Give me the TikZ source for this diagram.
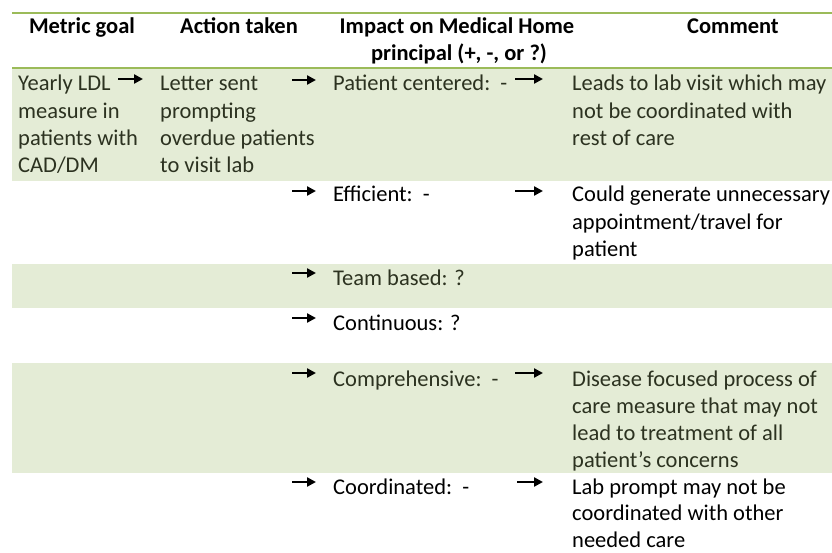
\documentclass[tikz,border=0pt]{standalone}
\usepackage{fontspec}
\setmainfont{Carlito}
\usetikzlibrary{arrows.meta}
\definecolor{bandgreen}{HTML}{E4ECD6}
\definecolor{rulegreen}{HTML}{9BBB59}
\definecolor{darktext}{HTML}{2C3220}
\begin{document}
\begin{tikzpicture}[x=1pt,y=-1pt,
  cell/.style={anchor=base west, inner sep=0pt, font=\fontsize{22.5}{27.3}\selectfont},
  gcell/.style={cell, text=darktext},
  head/.style={anchor=base, inner sep=0pt, font=\fontsize{22.5}{24}\selectfont\bfseries},
  arr/.style={line width=2.4pt, -{Triangle[length=9pt,width=9pt]}},
  rulel/.style={draw=rulegreen, line width=1.5pt}]
\useasboundingbox (0,0) rectangle (832,553);
% bands
\fill[bandgreen] (12,69) rectangle (832,181.5);
\fill[bandgreen] (12,264) rectangle (832,308);
\fill[bandgreen] (12,363) rectangle (832,473);
% rules
\draw[rulel] (12,13) -- (832,13);
\draw[rulel] (12,68) -- (832,68);
% header
\node[head] (h1) at (82,34) {Metric goal};
\node[head] (h2) at (239,34) {Action taken};
\node[head] (h3) at (457,34) {Impact on Medical Home};
\node[head] (h3b) at (459,61) {principal (+, -, or ?)};
\node[head] (h4) at (733,34) {Comment};
% row 1
\node[gcell] (m1) at (18,91) {\parbox[t]{140pt}{\raggedright Yearly LDL\\measure in\\patients with\\CAD/DM}};
\node[gcell] (c1) at (160,91) {\parbox[t]{170pt}{\raggedright Letter sent\\prompting\\overdue patients\\to visit lab}};
\node[gcell] (p1) at (333,91) {Patient centered:\ \ -};
\node[gcell] (k1) at (572,91) {\parbox[t]{270pt}{\raggedright Leads to lab visit which may\\not be coordinated with\\rest of care}};
% row 2
\node[cell] (p2) at (333,202) {Efficient:\ \ -};
\node[cell] (k2) at (572,202) {\parbox[t]{270pt}{\raggedright Could generate unnecessary\\appointment/travel for\\patient}};
% row 3
\node[gcell] (p3) at (333,285) {Team based: ?};
% row 4
\node[cell] (p4) at (333,330) {Continuous: ?};
% row 5
\node[gcell] (p5) at (333,386) {Comprehensive:\ \ -};
\node[gcell] (k5) at (572,386) {\parbox[t]{270pt}{\raggedright Disease focused process of\\care measure that may not\\lead to treatment of all\\patient’s concerns}};
% row 6
\node[cell] (p6) at (333,494) {Coordinated:\ \ -};
\node[cell] (k6) at (572,494) {\parbox[t]{270pt}{\fontsize{22.5}{26.8}\selectfont\raggedright Lab prompt may not be\\coordinated with other\\needed care}};
% arrow end points
\coordinate (a1s) at (118,79);  \coordinate (a1e) at (143,79);
\coordinate (b1s) at (292,80);  \coordinate (b1e) at (316,80);
\coordinate (d1s) at (515,79);  \coordinate (d1e) at (543,79);
\coordinate (b2s) at (292,191); \coordinate (b2e) at (316,191);
\coordinate (d2s) at (515,191); \coordinate (d2e) at (543,191);
\coordinate (b3s) at (292,273); \coordinate (b3e) at (316,273);
\coordinate (b4s) at (292,318); \coordinate (b4e) at (316,318);
\coordinate (b5s) at (292,373); \coordinate (b5e) at (316,373);
\coordinate (d5s) at (515,373); \coordinate (d5e) at (543,373);
\coordinate (b6s) at (292,482); \coordinate (b6e) at (316,482);
\coordinate (d6s) at (517,482); \coordinate (d6e) at (543,482);
% arrows
\draw[arr] (a1s) -- (a1e);
\draw[arr] (b1s) -- (b1e);
\draw[arr] (d1s) -- (d1e);
\draw[arr] (b2s) -- (b2e);
\draw[arr] (d2s) -- (d2e);
\draw[arr] (b3s) -- (b3e);
\draw[arr] (b4s) -- (b4e);
\draw[arr] (b5s) -- (b5e);
\draw[arr] (d5s) -- (d5e);
\draw[arr] (b6s) -- (b6e);
\draw[arr] (d6s) -- (d6e);
\end{tikzpicture}
\end{document}
